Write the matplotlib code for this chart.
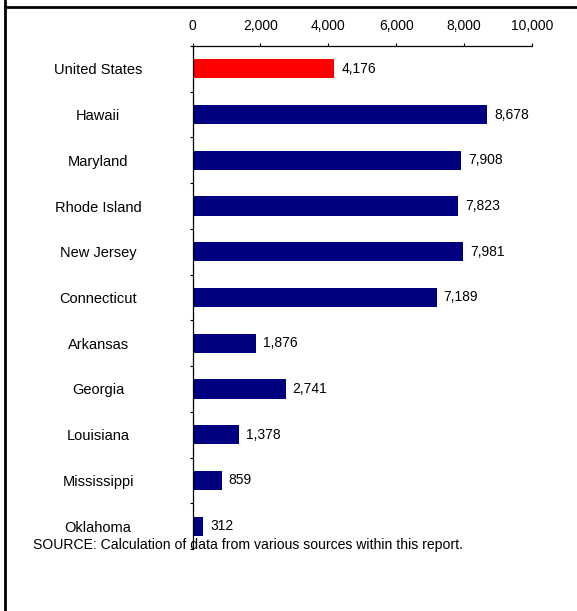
import matplotlib
matplotlib.use('Agg')
import matplotlib.pyplot as plt
from matplotlib.lines import Line2D
from matplotlib.ticker import FixedLocator

plt.rcParams['font.family'] = ['Liberation Sans', 'DejaVu Sans']

states = ['United States', 'Hawaii', 'Maryland', 'Rhode Island', 'New Jersey',
          'Connecticut', 'Arkansas', 'Georgia', 'Louisiana', 'Mississippi', 'Oklahoma']
values = [4176, 8678, 7908, 7823, 7981, 7189, 1876, 2741, 1378, 859, 312]
bar_colors = ['#ff0000'] + ['#000080'] * 10
x_ticks = [0, 2000, 4000, 6000, 8000, 10000]

W, H = 577, 611
fig = plt.figure(figsize=(W / 100, H / 100), dpi=100)
ax = fig.add_axes([192.5 / W, 1 - 549 / H, (532 - 192.5) / W, (549 - 46) / H])

pos = list(range(len(states)))
ax.barh(pos, values, height=0.42, color=bar_colors)
for p, v in zip(pos, values):
    ax.annotate(f'{v:,}', (v, p), xytext=(5, 0), textcoords='offset points',
                va='center', ha='left', fontsize=10)

ax.set_xlim(0, 10000)
ax.set_ylim(len(states) - 0.5, -0.5)
ax.xaxis.tick_top()
ax.set_xticks(x_ticks)
ax.set_xticklabels([f'{t:,}' for t in x_ticks], fontsize=10)
ax.tick_params(axis='x', direction='out', length=2.2, width=0.8, pad=7.5)

ax.set_yticks(pos)
ax.set_yticklabels(states, fontsize=10.5, ha='center')
ax.tick_params(axis='y', which='major', length=0, pad=68)
ax.yaxis.set_minor_locator(FixedLocator([i - 0.5 for i in range(len(states) + 1)]))
ax.tick_params(axis='y', which='minor', direction='out', length=2.5, width=0.8)

for s in ['right', 'bottom']:
    ax.spines[s].set_visible(False)
for s in ['top', 'left']:
    ax.spines[s].set_linewidth(0.9)

fig.text(33 / W, 1 - 545 / H, 'SOURCE: Calculation of data from various sources within this report.',
         fontsize=10.1, va='center', ha='left')

# frame lines around the figure
fig.add_artist(Line2D([5 / W, 5 / W], [0, 1], color='black', lw=2, transform=fig.transFigure))
fig.add_artist(Line2D([5 / W, 1], [1 - 6.5 / H, 1 - 6.5 / H], color='black', lw=2,
                      transform=fig.transFigure))

fig.savefig('out.png', dpi=100)
